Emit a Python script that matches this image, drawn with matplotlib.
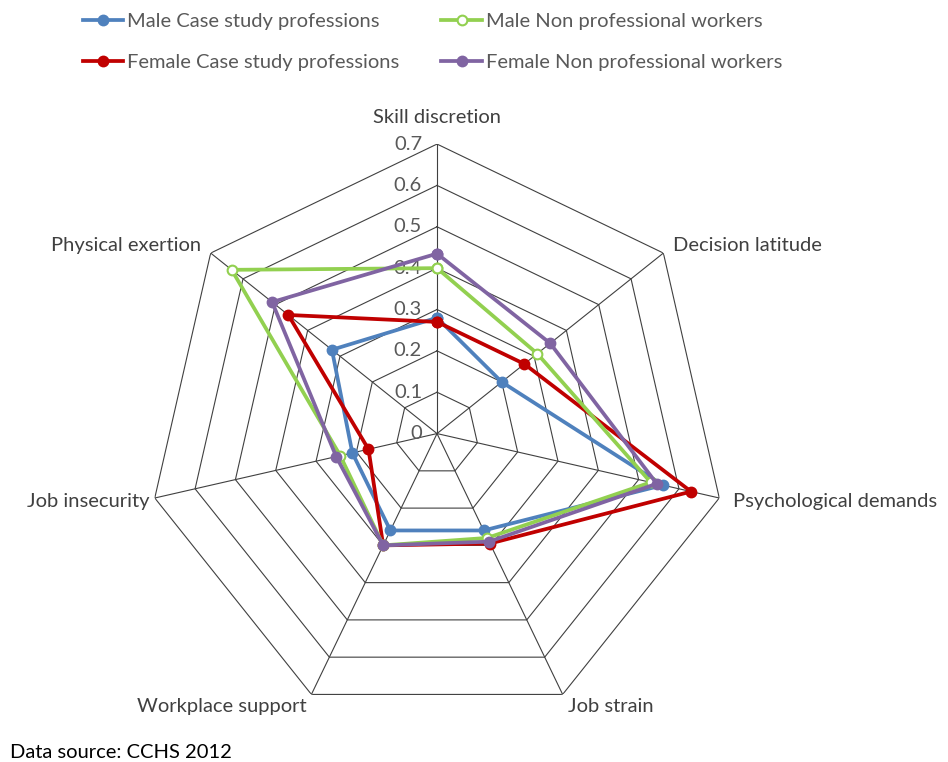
import numpy as np
import matplotlib.pyplot as plt

plt.rcParams['font.family'] = ['Lato', 'DejaVu Sans']

categories = ["Skill discretion", "Decision latitude", "Psychological demands",
              "Job strain", "Workplace support", "Job insecurity", "Physical exertion"]

male_case = [0.28, 0.20, 0.56, 0.26, 0.26, 0.21, 0.325]
male_non = [0.40, 0.31, 0.53, 0.28, 0.30, 0.24, 0.635]
female_case = [0.27, 0.27, 0.63, 0.295, 0.30, 0.17, 0.46]
female_non = [0.435, 0.35, 0.545, 0.29, 0.30, 0.25, 0.51]

ticks = [0, 0.1, 0.2, 0.3, 0.4, 0.5, 0.6, 0.7]

series = [
    ("Male Case study professions", male_case, "#4F81BD", "o", "#4F81BD"),
    ("Female Case study professions", female_case, "#C00000", "o", "#C00000"),
    ("Male Non professional workers", male_non, "#92D050", "o", "white"),
    ("Female Non professional workers", female_non, "#8064A2", "o", "#8064A2"),
]

# label offsets in pixels from each outer vertex
label_pos = [((0, 27), "center", "center"),
             ((10, 8), "left", "center"),
             ((14, -3), "left", "center"),
             ((5, -12), "left", "center"),
             ((-5, -12), "right", "center"),
             ((-5, -3), "right", "center"),
             ((-10, 8), "right", "center")]

n = len(categories)
angles = np.arange(n) * 2 * np.pi / n
closed = np.append(angles, angles[0])


def graph():
    fig = plt.figure(figsize=(9.48, 7.62), dpi=100)
    ax = fig.add_axes([0.1556, 0.051, 0.6108, 0.760], projection="polar")
    ax.set_theta_offset(np.pi / 2)
    ax.set_theta_direction(-1)
    ax.set_ylim(0, 0.7)
    ax.set_axis_off()

    # heptagon grid and spokes
    for r in ticks[1:]:
        ax.plot(closed, [r] * (n + 1), color="#404040", lw=0.8, zorder=1)
    for a in angles:
        ax.plot([a, a], [0, 0.7], color="#404040", lw=0.8, zorder=1)

    # radial tick labels
    for t in ticks:
        ax.annotate(f"{t:g}", xy=(0, t), xytext=(-15, 0), textcoords="offset pixels",
                    ha="right", va="center", fontsize=14.5, color="#595959", zorder=2)

    # category labels
    for a, name, (off, ha, va) in zip(angles, categories, label_pos):
        ax.annotate(name, xy=(a, 0.7), xytext=off, textcoords="offset pixels",
                    ha=ha, va=va, fontsize=14.5, color="#404040",
                    annotation_clip=False)

    handles = []
    for name, vals, col, mk, fc in series:
        h, = ax.plot(closed, vals + vals[:1], color=col, lw=2.7, marker=mk,
                     markersize=7, markerfacecolor=fc, markeredgecolor=col,
                     markeredgewidth=1.5, label=name, zorder=3, clip_on=False)
        handles.append(h)

    fig.legend(handles=handles, loc="upper center", bbox_to_anchor=(0.456, 1.007),
               ncol=2, frameon=False, fontsize=14.5, labelcolor="#595959",
               handlelength=2.0, handletextpad=0.2, columnspacing=2.1,
               labelspacing=1.2)

    fig.text(0.011, 1 - 752 / 762, "Data source: CCHS 2012", fontsize=14.5,
             color="black", va="center", ha="left")

    fig.savefig("out.png", dpi=100)


def main():
    graph()


if __name__ == "__main__":
    main()
